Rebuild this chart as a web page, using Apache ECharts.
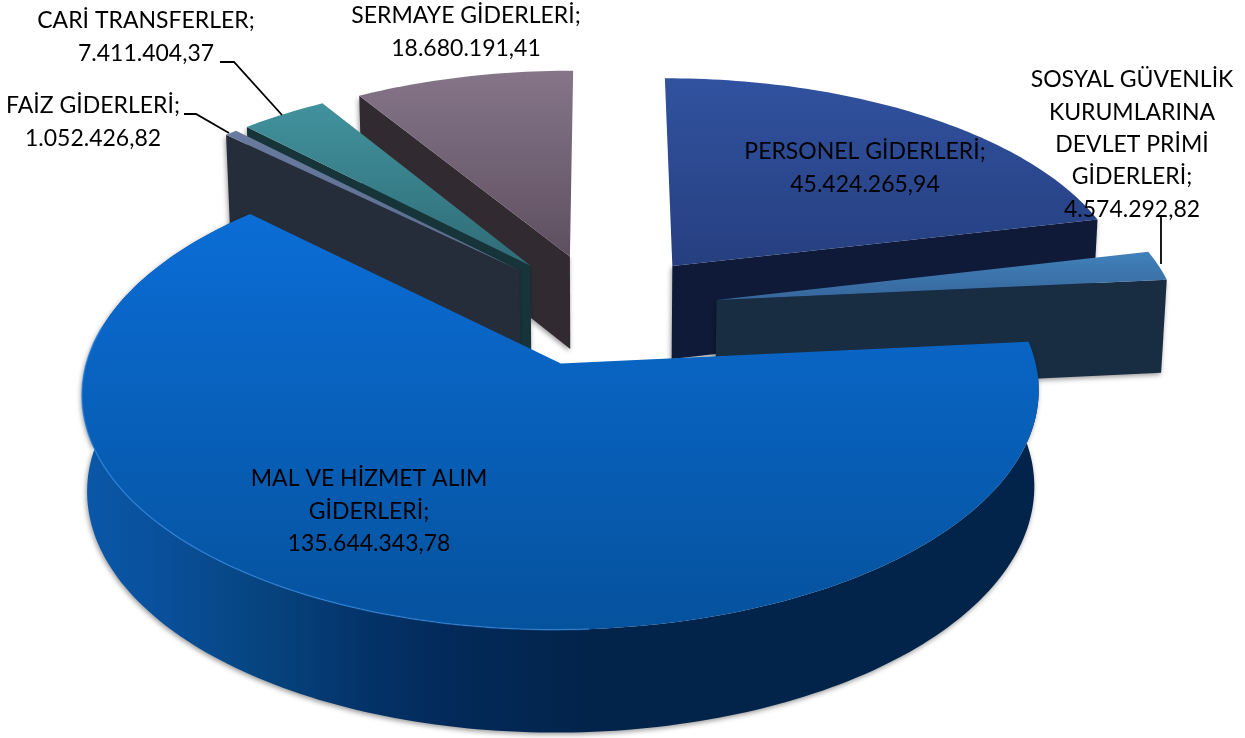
<!DOCTYPE html>
<html>
<head>
<meta charset="utf-8">
<style>
  html, body { margin: 0; padding: 0; background: #fff; }
  #chart { width: 1245px; height: 738px; }
</style>
<script src="https://cdn.jsdelivr.net/npm/echarts@6/dist/echarts.min.js"></script>
</head>
<body>
<div id="chart"></div>
<script>
// pie order, clockwise from 12 o'clock
const categories = [
  'PERSONEL GİDERLERİ',
  'SOSYAL GÜVENLİK KURUMLARINA DEVLET PRİMİ GİDERLERİ',
  'MAL VE HİZMET ALIM GİDERLERİ',
  'FAİZ GİDERLERİ',
  'CARİ TRANSFERLER',
  'SERMAYE GİDERLERİ'
];
const values = [45424265.94, 4574292.82, 135644343.78, 1052426.82, 7411404.37, 18680191.41];

// how the category names wrap on the chart
const labelLines = [
  ['PERSONEL GİDERLERİ;'],
  ['SOSYAL GÜVENLİK', 'KURUMLARINA', 'DEVLET PRİMİ', 'GİDERLERİ;'],
  ['MAL VE HİZMET ALIM', 'GİDERLERİ;'],
  ['FAİZ GİDERLERİ;'],
  ['CARİ TRANSFERLER;'],
  ['SERMAYE GİDERLERİ;']
];
const labelAnchors = [[865, 152], [1132, 80], [369, 479], [93, 106], [146, 21], [466, 16]];
const leaderLines = [
  null,
  [[1161, 216], [1161, 264]],
  null,
  [[184, 114], [196, 114], [229, 133]],
  [[220, 62], [234, 62], [282, 115]],
  null
];

// back to front
const paintOrder = [5, 4, 3, 0, 1, 2];

const topColors = [
  ['#31529f', '#263f80'],
  ['#4182bb', '#36669b'],
  ['#0b6dd6', '#05529d'],
  ['#6a7ba0', '#5a6a8a'],
  ['#41929d', '#2f6c76'],
  ['#867589', '#5e4f60']
];
const wallColors = ['#0e1a38', '#182c42', '#02234a', '#252c3a', '#17343a', '#322a31'];

// projection of the pie, all hand tuned against the picture
const OX = 601, OY = 309;
const RX = 461, RY = 220, PERSP = 0.12, EXPLODE = 0.255, DEPTH = 94;

function project(x, z, d) {
  const s = 1 / (1 + PERSP * z);
  // the bottom face sits a bit further from the camera
  const xs = s * (1 - 0.01 * d);
  return [OX + RX * x * xs, OY - RY * z * s + DEPTH * d * (0.46 + 0.54 * s)];
}

const total = values.reduce(function (a, b) { return a + b; }, 0);

function sliceAngles(index) {
  let start = 0;
  for (let i = 0; i < index; i++) start += values[i] / total * Math.PI * 2;
  return [start, start + values[index] / total * Math.PI * 2];
}

function formatTR(v) {
  const parts = v.toFixed(2).split('.');
  return parts[0].replace(/\B(?=(\d{3})+$)/g, '.') + ',' + parts[1];
}

function arcPoints(ex, ez, a0, a1, d) {
  const pts = [];
  const steps = Math.max(4, Math.ceil((a1 - a0) / 0.02));
  for (let i = 0; i <= steps; i++) {
    const t = a0 + (a1 - a0) * i / steps;
    pts.push(project(ex + Math.sin(t), ez + Math.cos(t), d));
  }
  return pts;
}

function vGrad(c) {
  return new echarts.graphic.LinearGradient(0, 0, 0, 1, [
    { offset: 0, color: c[0] }, { offset: 1, color: c[1] }
  ]);
}

function rimFill() {
  return new echarts.graphic.LinearGradient(0, 0, 1, 0, [
    { offset: 0, color: '#0a58a8' },
    { offset: 0.08, color: '#09509c' },
    { offset: 0.19, color: '#06447f' },
    { offset: 0.29, color: '#04346a' },
    { offset: 0.38, color: '#032a5a' },
    { offset: 0.54, color: '#02234a' },
    { offset: 1, color: '#02244a' }
  ]);
}

function renderSlice(params, api) {
  const index = params.dataIndex;
  const ang = sliceAngles(index);
  const mid = (ang[0] + ang[1]) / 2;
  const ex = EXPLODE * Math.sin(mid), ez = EXPLODE * Math.cos(mid);
  const z2 = paintOrder.indexOf(index) * 10;

  const apexTop = project(ex, ez, 0), apexBot = project(ex, ez, 1);
  const topArc = arcPoints(ex, ez, ang[0], ang[1], 0);
  const botArc = arcPoints(ex, ez, ang[0], ang[1], 1);
  const shadow = { shadowBlur: 5, shadowColor: 'rgba(0,0,0,0.4)', shadowOffsetX: -1, shadowOffsetY: 2 };
  const children = [];

  if (index === 2) {
    // only the big slice shows its outer rim
    children.push({
      type: 'polygon', z2: z2,
      shape: { points: topArc.concat(botArc.slice().reverse()) },
      style: Object.assign({ fill: rimFill() }, shadow)
    });
  } else {
    // the cut face turned to the camera: end face on the right, start face on the left
    const k = mid < Math.PI ? topArc.length - 1 : 0;
    children.push({
      type: 'polygon', z2: z2 + 1,
      shape: { points: [apexTop, topArc[k], botArc[k], apexBot] },
      style: Object.assign({ fill: wallColors[index] }, shadow)
    });
  }
  children.push({
    type: 'polygon', z2: z2 + 2,
    shape: { points: [apexTop].concat(topArc) },
    style: { fill: vGrad(topColors[index]) }
  });
  if (index === 2) {
    // light bevel along the front left rim
    children.push({
      type: 'polyline', z2: z2 + 3,
      shape: { points: arcPoints(ex, ez, Math.PI * 0.98, Math.PI * 1.55, 0) },
      style: { fill: 'none', stroke: 'rgba(50,135,225,0.6)', lineWidth: 1.5 }
    });
  }
  return { type: 'group', children: children };
}

function renderLabel(params, api) {
  const index = params.dataIndex;
  const lines = labelLines[index].concat(formatTR(values[index]));
  const anchor = labelAnchors[index];
  const children = lines.map(function (line, i) {
    return {
      type: 'text', z2: 200,
      x: anchor[0], y: anchor[1] + i * 32.3,
      style: {
        text: line, fill: '#000',
        font: '400 23px Lato, sans-serif',
        align: 'center', verticalAlign: 'middle'
      }
    };
  });
  if (leaderLines[index]) {
    children.push({
      type: 'polyline', z2: 190,
      shape: { points: leaderLines[index] },
      style: { fill: 'none', stroke: '#000', lineWidth: 1.8 }
    });
  }
  return { type: 'group', children: children };
}

const chart = echarts.init(document.getElementById('chart'), null, { renderer: 'canvas' });
chart.setOption({
  animation: false,
  backgroundColor: '#fff',
  series: [{
    type: 'custom',
    coordinateSystem: 'none',
    silent: true,
    data: values,
    renderItem: renderSlice
  }, {
    type: 'custom',
    coordinateSystem: 'none',
    silent: true,
    z: 5,
    data: values,
    renderItem: renderLabel
  }]
});
</script>
</body>
</html>
